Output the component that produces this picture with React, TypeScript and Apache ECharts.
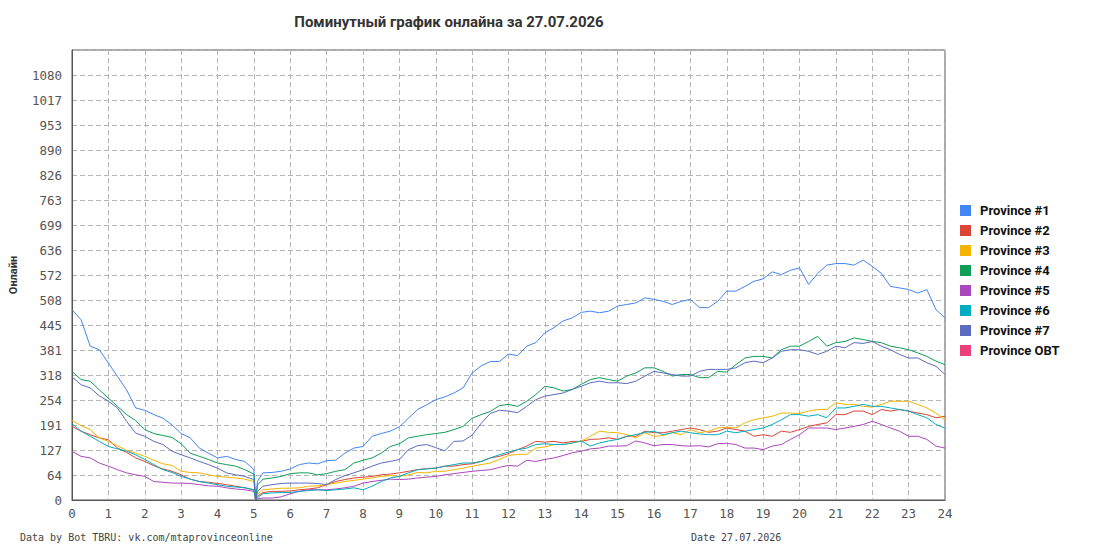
import React, { useEffect, useRef } from "react";
import * as echarts from "echarts";

const TITLE = "Поминутный график онлайна за 27.07.2026";
const Y_NAME = "Онлайн";
const FOOT_LEFT = "Data by Bot TBRU: vk.com/mtaprovinceonline";
const FOOT_RIGHT = "Date 27.07.2026";

const SERIES_NAMES = [
  "Province #1",
  "Province #2",
  "Province #3",
  "Province #4",
  "Province #5",
  "Province #6",
  "Province #7",
  "Province OBT",
];
const COLORS = ["#4285f4", "#db4437", "#f4b400", "#0f9d58", "#ab47bc", "#00acc1", "#5c6bc0", "#ec407a"];

// hours of the day
const HOURS = [
  0, 0.25, 0.5, 0.75, 1, 1.25, 1.5, 1.75, 2, 2.25, 2.5, 2.75, 3, 3.25, 3.5, 3.75, 4, 4.25, 4.5, 4.75, 5,
  5.05, 5.1,
  5.25, 5.5, 5.75, 6,
  6.25, 6.5, 6.75, 7, 7.25, 7.5, 7.75, 8, 8.25, 8.5, 8.75, 9, 9.25, 9.5, 9.75, 10, 10.25, 10.5, 10.75, 11, 11.25, 11.5, 11.75, 12,
  12.25, 12.5, 12.75, 13, 13.25, 13.5, 13.75, 14, 14.25, 14.5, 14.75, 15, 15.25, 15.5, 15.75, 16, 16.25, 16.5, 16.75, 17, 17.25, 17.5, 17.75, 18,
  18.25, 18.5, 18.75, 19, 19.25, 19.5, 19.75, 20, 20.25, 20.5, 20.75, 21, 21.25, 21.5, 21.75, 22, 22.25, 22.5, 22.75, 23, 23.25, 23.5, 23.75, 24,
];

const P1 = [
  484, 458, 391, 382, 348, 314, 280, 234, 228, 217, 208, 191, 169, 158, 132, 119, 107, 111, 103, 98, 77,
  0, 48,
  69, 70, 73, 79,
  90, 94, 92, 100, 101, 119, 132, 136, 162, 169, 175, 186, 208, 230, 242, 255, 262, 272, 285, 323, 341, 352, 352, 371,
  367, 391, 400, 425, 438, 455, 463, 477, 480, 476, 480, 493, 497, 501, 514, 510, 505, 497, 505, 510, 489, 489, 505, 531,
  531, 543, 556, 562, 580, 573, 584, 590, 548, 576, 597, 601, 601, 597, 610, 594, 576, 543, 539, 535, 526, 535, 484, 463,
];
const P2 = [
  187, 175, 166, 158, 153, 132, 121, 107, 98, 87, 79, 73, 64, 53, 47, 45, 42, 39, 35, 31, 26,
  0, 10,
  19, 22, 22, 23,
  26, 28, 31, 39, 47, 52, 56, 58, 60, 64, 66, 69, 73, 77, 80, 81, 86, 86, 90, 92, 98, 107, 111, 118,
  128, 137, 149, 147, 149, 145, 149, 149, 154, 155, 158, 154, 162, 162, 175, 171, 171, 175, 179, 183, 179, 172, 175, 183,
  179, 175, 162, 166, 162, 175, 172, 179, 187, 192, 196, 217, 217, 226, 226, 217, 230, 226, 230, 226, 221, 217, 209, 213,
];
const P3 = [
  202, 189, 179, 158, 149, 138, 126, 119, 111, 101, 92, 88, 73, 70, 69, 64, 60, 58, 56, 53, 47,
  0, 15,
  26, 28, 30, 30,
  31, 35, 36, 39, 43, 47, 50, 53, 56, 60, 62, 60, 64, 70, 69, 73, 73, 77, 81, 86, 90, 94, 103, 113,
  116, 116, 132, 135, 141, 141, 145, 150, 162, 175, 172, 171, 166, 158, 171, 162, 164, 171, 166, 179, 171, 175, 183, 185,
  183, 196, 204, 209, 213, 221, 221, 220, 226, 230, 230, 247, 243, 243, 238, 236, 243, 251, 251, 251, 243, 234, 221, 204,
];
const P4 = [
  327, 306, 302, 280, 259, 238, 217, 202, 179, 169, 164, 159, 143, 119, 111, 103, 94, 90, 86, 77, 66,
  0, 38,
  53, 56, 60, 67,
  69, 69, 64, 67, 73, 77, 94, 101, 107, 119, 136, 143, 158, 162, 166, 169, 172, 179, 187, 208, 217, 225, 240, 243,
  238, 251, 268, 289, 285, 277, 281, 294, 306, 311, 306, 302, 315, 323, 336, 336, 327, 315, 319, 319, 311, 311, 327, 325,
  344, 361, 365, 365, 361, 382, 391, 391, 403, 416, 391, 400, 403, 412, 408, 403, 400, 391, 387, 382, 374, 365, 353, 344,
];
const P5 = [
  124, 111, 107, 94, 86, 77, 69, 64, 60, 47, 45, 43, 43, 42, 39, 36, 35, 31, 28, 26, 22,
  0, 3,
  5, 5, 8, 16,
  22, 26, 26, 26, 28, 31, 35, 43, 47, 50, 53, 52, 53, 56, 58, 60, 64, 67, 70, 73, 75, 77, 83, 88,
  86, 101, 98, 103, 107, 113, 120, 124, 130, 132, 137, 137, 138, 150, 145, 138, 141, 141, 138, 137, 138, 135, 143, 144,
  141, 132, 132, 128, 137, 141, 154, 166, 183, 183, 183, 179, 183, 187, 192, 200, 192, 183, 175, 162, 162, 154, 137, 132,
];
const P6 = [
  194, 175, 162, 149, 136, 130, 124, 115, 103, 90, 77, 70, 60, 53, 47, 43, 39, 35, 33, 31, 26,
  0, 6,
  16, 18, 19, 19,
  22, 24, 26, 24, 26, 28, 31, 26, 35, 47, 56, 60, 69, 77, 79, 81, 86, 90, 94, 94, 98, 107, 115, 122,
  128, 132, 141, 143, 141, 141, 145, 150, 137, 145, 150, 154, 162, 166, 172, 175, 166, 171, 175, 171, 168, 166, 166, 175,
  171, 175, 179, 183, 192, 204, 217, 217, 213, 217, 209, 234, 234, 238, 243, 238, 238, 234, 230, 226, 217, 209, 192, 183,
];
const P7 = [
  313, 293, 285, 265, 251, 234, 200, 170, 162, 149, 141, 124, 115, 107, 98, 90, 81, 69, 64, 60, 52,
  0, 22,
  35, 39, 42, 43,
  43, 43, 42, 39, 52, 62, 69, 77, 86, 94, 98, 103, 128, 138, 141, 133, 125, 149, 150, 165, 195, 220, 228, 226,
  222, 238, 255, 264, 268, 272, 281, 289, 298, 302, 298, 298, 296, 302, 315, 327, 323, 319, 315, 315, 327, 332, 332, 332,
  336, 349, 353, 349, 361, 378, 382, 382, 378, 370, 378, 391, 387, 400, 398, 403, 391, 382, 370, 361, 361, 349, 340, 319,
];
const POBT: number[] = [];

const SERIES_VALUES = [P1, P2, P3, P4, P5, P6, P7, POBT];

const Y_STEP = 63.55;
const Y_MAX = 18 * Y_STEP;

export default function App() {
  const ref = useRef<HTMLDivElement>(null);
  useEffect(() => {
    const chart = echarts.init(ref.current as HTMLDivElement, null, { renderer: "svg" });
    const mono = "'DejaVu Sans Mono', monospace";
    chart.setOption({
      animation: false,
      backgroundColor: "#ffffff",
      grid: {
        left: 70,
        top: 50,
        width: 875,
        height: 450,
        show: true,
        borderColor: "#555555",
        borderWidth: 1,
        containLabel: false,
      },
      legend: {
        orient: "vertical",
        left: 955,
        top: 199,
        icon: "rect",
        itemWidth: 11,
        itemHeight: 11,
        itemGap: 7,
        data: SERIES_NAMES,
        textStyle: {
          fontFamily: "Roboto",
          fontWeight: "bold",
          fontSize: 13,
          color: "#111111",
          padding: [0, 0, 0, 4],
        },
      },
      xAxis: {
        type: "value",
        min: 0,
        max: 24,
        interval: 1,
        axisLine: { show: true, onZero: false, lineStyle: { color: "#555555", width: 1 } },
        axisTick: { show: false },
        axisLabel: { fontFamily: mono, fontSize: 12.5, color: "#555555", margin: 7 },
        splitLine: { show: true, lineStyle: { color: "#b4b4b4", width: 1, type: [5, 3] } },
      },
      yAxis: {
        type: "value",
        min: 0,
        max: Y_MAX,
        interval: Y_STEP,
        name: Y_NAME,
        nameLocation: "middle",
        nameRotate: 90,
        nameGap: 53,
        nameTextStyle: { fontFamily: "Roboto", fontWeight: "bold", fontSize: 11, color: "#333333" },
        axisLine: { show: true, lineStyle: { color: "#555555", width: 1 } },
        axisTick: { show: false },
        axisLabel: {
          fontFamily: mono,
          fontSize: 12.5,
          color: "#555555",
          margin: 10,
          formatter: (v: number) => (v > Y_MAX - 1 ? "" : String(Math.round(v + 1e-6))),
        },
        splitLine: { show: true, lineStyle: { color: "#b4b4b4", width: 1, type: [5, 3] } },
      },
      graphic: [
        {
          type: "text",
          x: 449,
          y: 22,
          style: {
            text: TITLE,
            font: "bold 15px Roboto",
            fill: "#333333",
            align: "center",
            verticalAlign: "middle",
            textAlign: "center",
            textVerticalAlign: "middle",
          },
        },
        {
          type: "text",
          x: 20,
          y: 537,
          style: {
            text: FOOT_LEFT,
            font: "10px 'DejaVu Sans Mono'",
            fill: "#444444",
            align: "left",
            verticalAlign: "middle",
            textAlign: "left",
            textVerticalAlign: "middle",
          },
        },
        {
          type: "text",
          x: 691,
          y: 537,
          style: {
            text: FOOT_RIGHT,
            font: "10px 'DejaVu Sans Mono'",
            fill: "#444444",
            align: "left",
            verticalAlign: "middle",
            textAlign: "left",
            textVerticalAlign: "middle",
          },
        },
      ],
      series: SERIES_NAMES.map((name, si) => ({
        name,
        type: "line",
        color: COLORS[si],
        showSymbol: false,
        symbol: "none",
        lineStyle: { width: 1, color: COLORS[si] },
        data: SERIES_VALUES[si].map((v, i) => [HOURS[i], v]),
      })),
    });
    return () => chart.dispose();
  }, []);
  return (
    <div
      ref={ref}
      style={{ position: "fixed", left: 0, top: 0, width: 1095, height: 550, background: "#ffffff" }}
    />
  );
}
